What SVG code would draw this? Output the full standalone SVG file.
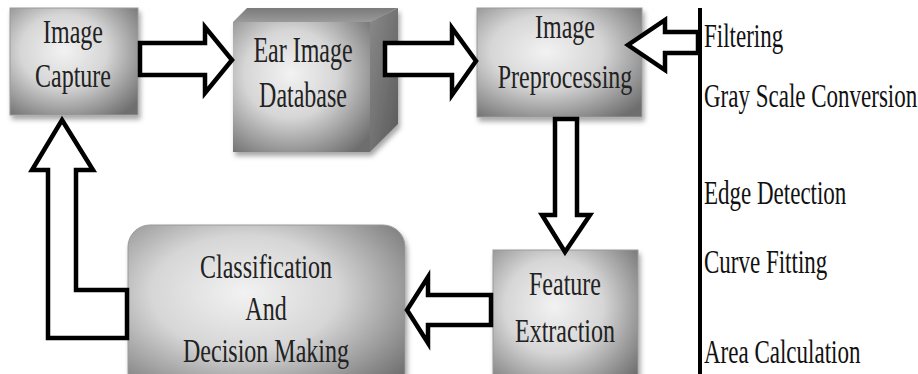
<svg xmlns="http://www.w3.org/2000/svg" width="918" height="374" viewBox="0 0 918 374">
<defs>
<radialGradient id="g1" cx="0.42" cy="0.4" r="0.75">
<stop offset="0" stop-color="#f2f2f2"/>
<stop offset="0.45" stop-color="#d6d6d6"/>
<stop offset="1" stop-color="#6e6e6e"/>
</radialGradient>
<linearGradient id="gTop" x1="0" y1="0" x2="0" y2="1">
<stop offset="0" stop-color="#7a7a7a"/>
<stop offset="1" stop-color="#9a9a9a"/>
</linearGradient>
<linearGradient id="gSide" x1="0" y1="0" x2="1" y2="1">
<stop offset="0" stop-color="#8a8a8a"/>
<stop offset="1" stop-color="#5a5a5a"/>
</linearGradient>
<filter id="sh" x="-10%" y="-10%" width="130%" height="130%">
<feDropShadow dx="2" dy="4" stdDeviation="2.5" flood-color="#000" flood-opacity="0.35"/>
</filter>
<style>
.box{fill:url(#g1);stroke:#9a9a9a;stroke-width:1;filter:url(#sh)}
.arr{fill:#fff;stroke:#000;stroke-width:4.5;stroke-linejoin:miter}
.t{font-family:"Liberation Serif","Times New Roman",serif;font-size:24px;fill:#222;text-anchor:middle}
.r{font-family:"Liberation Serif","Times New Roman",serif;font-size:23px;fill:#111}
</style>
</defs>
<rect width="918" height="374" fill="#fff"/>

<g id="image-capture">
<rect class="box" x="10" y="8" width="128" height="107"/>
<g transform="translate(73,43) scale(1,1.4)"><text class="t" x="0" y="0">Image</text></g>
<g transform="translate(73,87) scale(1,1.4)"><text class="t" x="0" y="0">Capture</text></g>
</g>

<g id="ear-image-database">
<g filter="url(#sh)">
<polygon points="233,22 247,8 398,8 370,22" fill="url(#gTop)"/>
<polygon points="370,22 398,8 398,124 370,152" fill="url(#gSide)"/>
<rect x="233" y="22" width="137" height="130" fill="url(#g1)"/>
</g>
<g transform="translate(303,62) scale(1,1.45)"><text class="t" x="0" y="0">Ear Image</text></g>
<g transform="translate(303,107) scale(1,1.45)"><text class="t" x="0" y="0">Database</text></g>
</g>

<g id="image-preprocessing">
<rect class="box" x="477" y="8" width="165" height="109"/>
<g transform="translate(565,38) scale(1,1.4)"><text class="t" x="0" y="0">Image</text></g>
<g transform="translate(565,88) scale(1,1.4)"><text class="t" x="0" y="0">Preprocessing</text></g>
</g>

<g id="feature-extraction">
<rect class="box" x="493" y="250" width="145" height="140"/>
<g transform="translate(565,295) scale(1,1.4)"><text class="t" x="0" y="0">Feature</text></g>
<g transform="translate(565,342) scale(1,1.4)"><text class="t" x="0" y="0">Extraction</text></g>
</g>

<g id="classification">
<rect class="box" x="128" y="225" width="277" height="170" rx="22" ry="22"/>
<g transform="translate(266,278) scale(1,1.4)"><text class="t" x="0" y="0">Classification</text></g>
<g transform="translate(266,320) scale(1,1.4)"><text class="t" x="0" y="0">And</text></g>
<g transform="translate(266,362) scale(1,1.4)"><text class="t" x="0" y="0">Decision Making</text></g>
</g>

<g id="steps">
<line x1="700" y1="8" x2="700" y2="374" stroke="#000" stroke-width="4"/>
<g transform="translate(704,47) scale(1,1.42)"><text class="r" x="0" y="0">Filtering</text></g>
<g transform="translate(704,107) scale(1,1.42)"><text class="r" x="0" y="0">Gray Scale Conversion</text></g>
<g transform="translate(704,204) scale(1,1.42)"><text class="r" x="0" y="0">Edge Detection</text></g>
<g transform="translate(704,273) scale(1,1.42)"><text class="r" x="0" y="0">Curve Fitting</text></g>
<g transform="translate(704,363) scale(1,1.42)"><text class="r" x="0" y="0">Area Calculation</text></g>
</g>

<g id="connectors">
<path class="arr" d="M140,43 L205,43 L205,27 L232,60 L205,93 L205,75 L140,75 Z"/>
<path class="arr" d="M385,43 L452,43 L452,28 L476,61 L452,95 L452,75 L385,75 Z"/>
<path class="arr" d="M698,32 L665,32 L665,20 L628,45 L665,70 L665,53 L698,53 Z"/>
<path class="arr" d="M555,119 L555,215 L542,215 L565,252 L590,215 L577,215 L577,119 Z"/>
<path class="arr" d="M491,295 L428,295 L428,277 L407,310 L428,343 L428,325 L491,325 Z"/>
<path class="arr" d="M62,120 L93,170 L76,170 L76,290 L127,290 L127,338 L48,338 L48,170 L32,170 Z"/>
</g>
</svg>
